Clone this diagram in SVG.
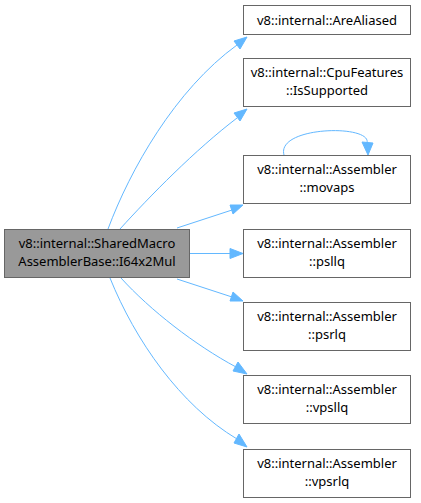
<svg xmlns="http://www.w3.org/2000/svg" width="421" height="503" viewBox="0 0 421 503">
<style>
.n rect{fill:#fff;stroke:#666;stroke-width:1}
.n.m rect{fill:#999}
.n text{font-family:"Noto Sans","DejaVu Sans",sans-serif;font-size:13px;fill:#000;text-anchor:middle}
.e path{fill:none;stroke:#63b8ff;stroke-width:1}
.e polygon{fill:#63b8ff;stroke:#63b8ff;stroke-width:1}
</style>
<rect width="421" height="503" fill="#fff"/>
<g id="edges" class="e">
<path d="M108,229 C130,170 175,90 237,45"/>
<polygon points="234,41 247,37 240,49"/>
<path d="M120,229 C150,196 195,150 237,118"/>
<polygon points="234,113 247,109 240,121"/>
<path d="M177,228 L232,210"/>
<polygon points="230,205 243,205 233,214"/>
<path d="M190,253.5 L230,253.5"/>
<polygon points="230,248.5 243,253.5 230,258.5"/>
<path d="M177,279 L232,297"/>
<polygon points="233,292 243,301 230,301"/>
<path d="M121,278 C150,310 195,345 236,367"/>
<polygon points="238,362 247,374 233,371"/>
<path d="M110,278 C135,340 180,405 237,439"/>
<polygon points="239,434 247,447 234,443"/>
<path d="M284,155 C276,126 372,124 367,143"/>
<polygon points="362,142 368,155 373,143"/>
</g>
<g id="node-main" class="n m">
<rect x="4.5" y="229.5" width="185" height="48"/>
<text x="97" y="247.5">v8::internal::SharedMacro</text>
<text x="97" y="266">AssemblerBase::I64x2Mul</text>
</g>
<g id="node-arealiased" class="n">
<rect x="243.5" y="5.5" width="167" height="29"/>
<text x="327" y="24.5">v8::internal::AreAliased</text>
</g>
<g id="node-cpufeatures" class="n">
<rect x="243.5" y="58.5" width="167" height="48"/>
<text x="327" y="77">v8::internal::CpuFeatures</text>
<text x="327" y="95">::IsSupported</text>
</g>
<g id="node-movaps" class="n">
<rect x="243.5" y="155.5" width="167" height="48"/>
<text x="327" y="174">v8::internal::Assembler</text>
<text x="327" y="192">::movaps</text>
</g>
<g id="node-psllq" class="n">
<rect x="243.5" y="229.5" width="167" height="48"/>
<text x="327" y="248">v8::internal::Assembler</text>
<text x="327" y="266">::psllq</text>
</g>
<g id="node-psrlq" class="n">
<rect x="243.5" y="302.5" width="167" height="48"/>
<text x="327" y="321">v8::internal::Assembler</text>
<text x="327" y="339">::psrlq</text>
</g>
<g id="node-vpsllq" class="n">
<rect x="243.5" y="375.5" width="167" height="48"/>
<text x="327" y="394">v8::internal::Assembler</text>
<text x="327" y="412">::vpsllq</text>
</g>
<g id="node-vpsrlq" class="n">
<rect x="243.5" y="449.5" width="167" height="48"/>
<text x="327" y="468">v8::internal::Assembler</text>
<text x="327" y="486">::vpsrlq</text>
</g>
</svg>
